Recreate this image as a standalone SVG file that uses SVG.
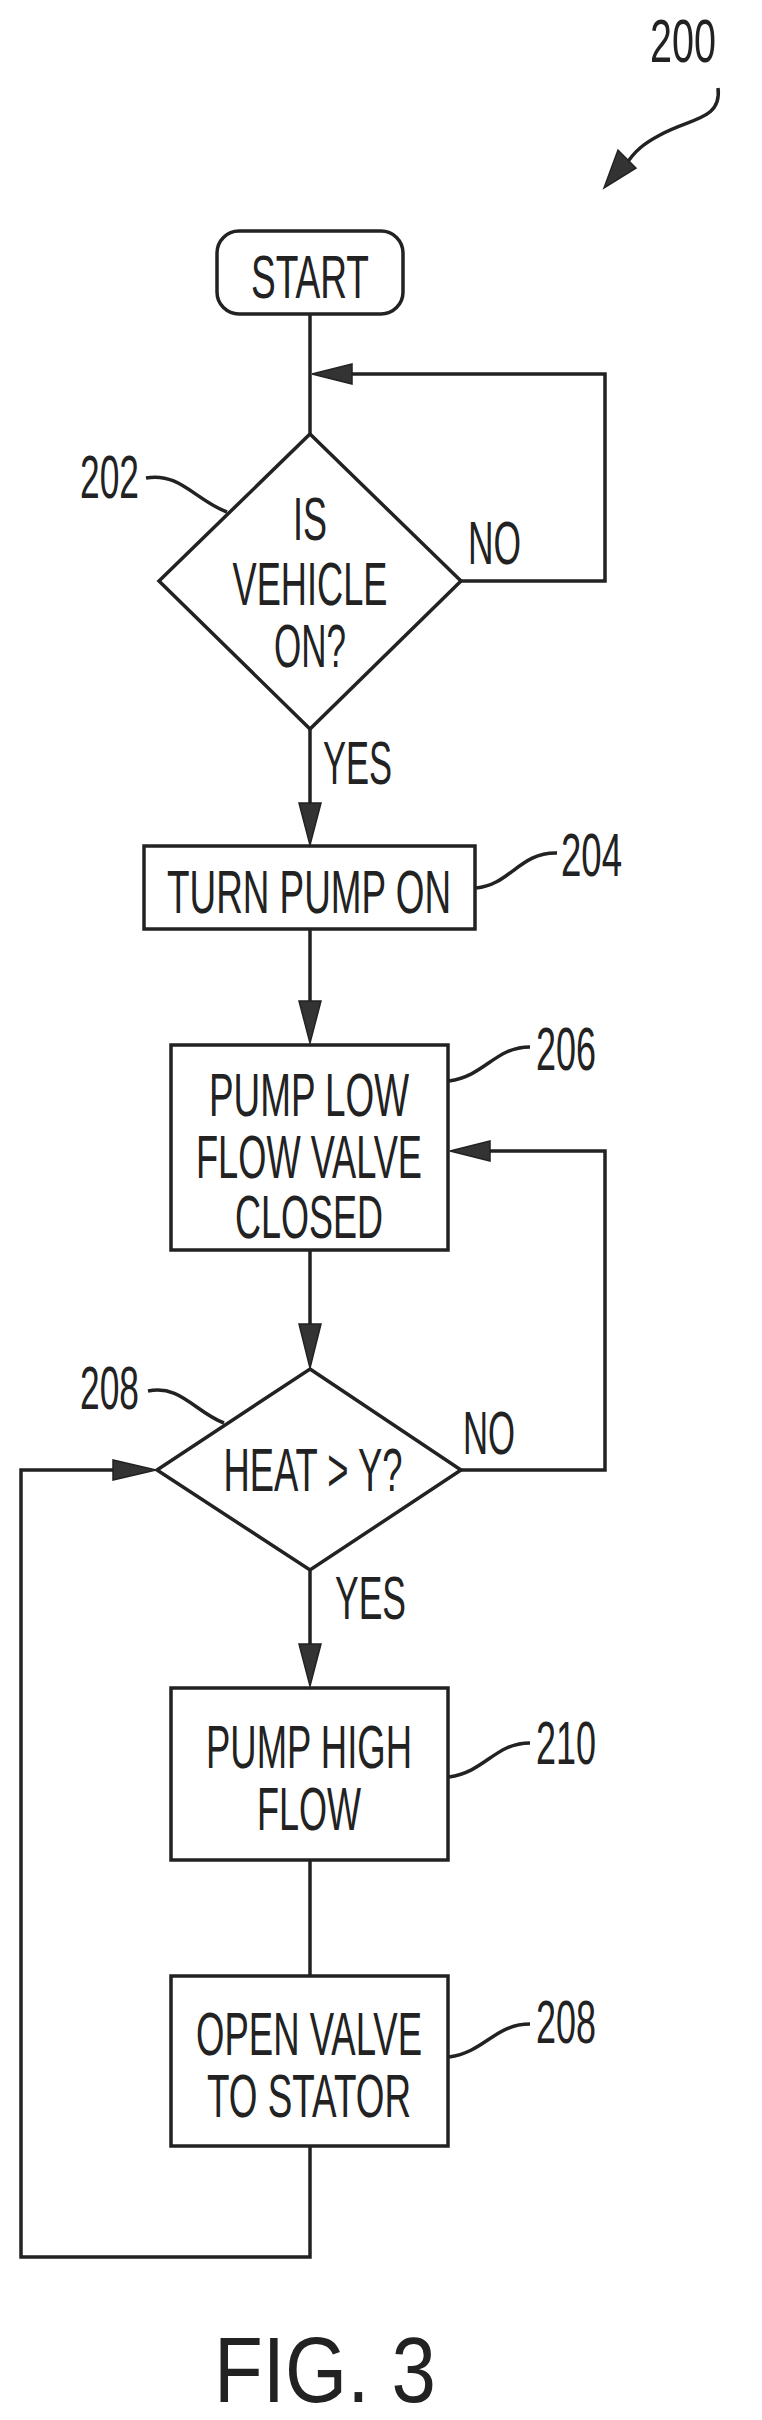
<svg xmlns="http://www.w3.org/2000/svg" width="762" height="2420" viewBox="0 0 762 2420">
<style>
.s{fill:none;stroke:#222;stroke-width:3.5}
.t{font-family:"Liberation Sans",Arial,sans-serif;font-size:62px;fill:#222;text-anchor:middle}
.n{font-family:"Liberation Sans",Arial,sans-serif;font-size:62px;fill:#222}
.a{fill:#333;stroke:#222;stroke-width:1.5}
</style>
<rect width="762" height="2420" fill="#fff"/>
<g id="ref200">
<text class="n" x="650" y="62" textLength="66" lengthAdjust="spacingAndGlyphs">200</text>
<path class="s" d="M718,88 C722,120 690,118 660,135 C645,143 635,150 625,166"/>
<polygon class="a" points="604,188 618,150 636,168"/>
</g>
<g id="start">
<rect class="s" x="217" y="231" width="186" height="83" rx="22"/>
<text class="t" x="310" y="298" textLength="118" lengthAdjust="spacingAndGlyphs">START</text>
</g>
<g id="n202">
<polygon class="s" points="310,434 461,581 310,729 159,581"/>
<text class="t" x="310" y="540" textLength="34" lengthAdjust="spacingAndGlyphs">IS</text>
<text class="t" x="310" y="605" textLength="155" lengthAdjust="spacingAndGlyphs">VEHICLE</text>
<text class="t" x="310" y="667" textLength="72" lengthAdjust="spacingAndGlyphs">ON?</text>
<text class="n" x="80" y="498" textLength="59" lengthAdjust="spacingAndGlyphs">202</text>
<path class="s" d="M146,478 C180,472 195,500 227,512" stroke-width="2.5"/>
</g>
<g id="n204">
<rect class="s" x="144" y="846" width="331" height="83"/>
<text class="t" x="309" y="913" textLength="284" lengthAdjust="spacingAndGlyphs">TURN PUMP ON</text>
<text class="n" x="561" y="876" textLength="61" lengthAdjust="spacingAndGlyphs">204</text>
<path class="s" d="M476,888 C510,885 520,852 557,853" stroke-width="2.5"/>
</g>
<g id="n206">
<rect class="s" x="171" y="1045" width="277" height="205"/>
<text class="t" x="309" y="1116" textLength="200" lengthAdjust="spacingAndGlyphs">PUMP LOW</text>
<text class="t" x="309" y="1178" textLength="226" lengthAdjust="spacingAndGlyphs">FLOW VALVE</text>
<text class="t" x="309" y="1238" textLength="148" lengthAdjust="spacingAndGlyphs">CLOSED</text>
<text class="n" x="536" y="1070" textLength="60" lengthAdjust="spacingAndGlyphs">206</text>
<path class="s" d="M449,1081 C485,1076 495,1047 530,1047" stroke-width="2.5"/>
</g>
<g id="n208">
<polygon class="s" points="310,1369 461,1470 310,1570 157,1470"/>
<text class="t" x="313" y="1491" textLength="179" lengthAdjust="spacingAndGlyphs">HEAT &gt; Y?</text>
<text class="n" x="80" y="1409" textLength="59" lengthAdjust="spacingAndGlyphs">208</text>
<path class="s" d="M148,1391 C180,1384 195,1412 224,1423" stroke-width="2.5"/>
</g>
<g id="n210">
<rect class="s" x="171" y="1688" width="277" height="172"/>
<text class="t" x="309" y="1768" textLength="206" lengthAdjust="spacingAndGlyphs">PUMP HIGH</text>
<text class="t" x="309" y="1830" textLength="104" lengthAdjust="spacingAndGlyphs">FLOW</text>
<text class="n" x="536" y="1764" textLength="60" lengthAdjust="spacingAndGlyphs">210</text>
<path class="s" d="M449,1777 C485,1772 495,1743 530,1743" stroke-width="2.5"/>
</g>
<g id="n212">
<rect class="s" x="171" y="1976" width="277" height="170"/>
<text class="t" x="309" y="2055" textLength="226" lengthAdjust="spacingAndGlyphs">OPEN VALVE</text>
<text class="t" x="309" y="2117" textLength="204" lengthAdjust="spacingAndGlyphs">TO STATOR</text>
<text class="n" x="536" y="2043" textLength="60" lengthAdjust="spacingAndGlyphs">208</text>
<path class="s" d="M449,2057 C485,2052 495,2024 530,2024" stroke-width="2.5"/>
</g>
<g id="connectors">
<path class="s" d="M310,314 V434"/>
<path class="s" d="M461,581 H605 V374 H330"/>
<polygon class="a" points="312,374 352,364 352,384"/>
<text class="n" x="468" y="564" textLength="53" lengthAdjust="spacingAndGlyphs">NO</text>
<path class="s" d="M310,729 V810"/>
<polygon class="a" points="310,845 299,803 321,803"/>
<text class="n" x="323" y="784" textLength="69" lengthAdjust="spacingAndGlyphs">YES</text>
<path class="s" d="M310,929 V1005"/>
<polygon class="a" points="310,1043 299,1001 321,1001"/>
<path class="s" d="M461,1470 H605 V1151 H480"/>
<polygon class="a" points="450,1151 490,1141 490,1161"/>
<text class="n" x="463" y="1454" textLength="52" lengthAdjust="spacingAndGlyphs">NO</text>
<path class="s" d="M310,1250 V1330"/>
<polygon class="a" points="310,1368 299,1324 321,1324"/>
<path class="s" d="M310,1570 V1650"/>
<polygon class="a" points="310,1686 299,1644 321,1644"/>
<text class="n" x="335" y="1619" textLength="71" lengthAdjust="spacingAndGlyphs">YES</text>
<path class="s" d="M310,1860 V1976"/>
<path class="s" d="M310,2146 V2257 H21 V1470 H120"/>
<polygon class="a" points="156,1470 113,1460 113,1480"/>
</g>
<text class="n" x="214" y="2402" textLength="222" lengthAdjust="spacingAndGlyphs" style="font-size:92px">FIG. 3</text>
</svg>
